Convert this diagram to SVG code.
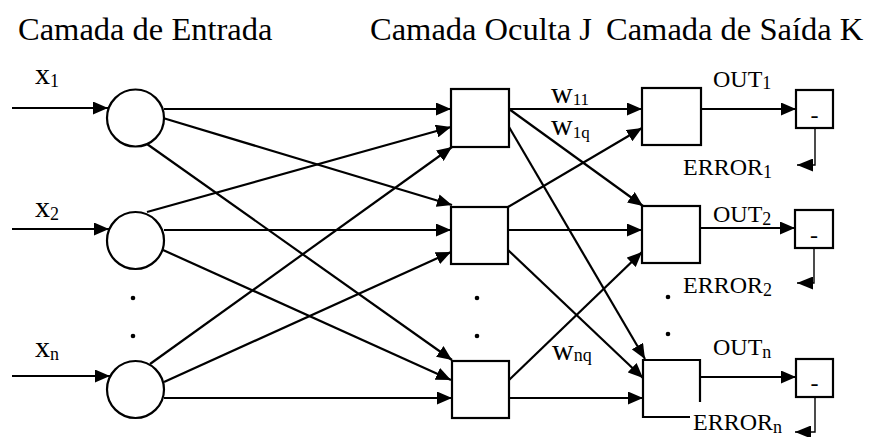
<svg xmlns="http://www.w3.org/2000/svg" width="880" height="437" viewBox="0 0 880 437" font-family="'Liberation Serif', 'DejaVu Serif', serif">
  <style>
    text { font-family: 'Liberation Serif', 'DejaVu Serif', serif; fill: #000; }
    .title { font-size: 32.5px; }
    .lbl { font-size: 24px; }
    .var { font-size: 30px; }
    .sub { font-size: 18px; }
    .wsub { font-size: 17px; }
    .node { fill: #fff; stroke: #000; stroke-width: 2.2; }
    .edge { fill: none; stroke: #000; stroke-width: 2.2; marker-end: url(#arrow); }
    .err { fill: none; stroke: #000; stroke-width: 1.4; marker-end: url(#arrowErr); }
    .dot { fill: #000; }
  </style>
  <defs>
    <marker id="arrow" markerUnits="userSpaceOnUse" markerWidth="15" markerHeight="13" refX="15" refY="6.5" orient="auto">
      <path d="M0,0 L15,6.5 L0,13 z" fill="#000"/>
    </marker>
    <marker id="arrowErr" markerUnits="userSpaceOnUse" markerWidth="16" markerHeight="13" refX="16" refY="6.5" orient="auto">
      <path d="M0,0 L16,6.5 L0,13 z" fill="#000"/>
    </marker>
  </defs>

  <rect width="880" height="437" fill="#fff"/>

  <!-- layer titles -->
  <text class="title" x="18" y="40">Camada de Entrada</text>
  <text class="title" x="370" y="40">Camada Oculta J</text>
  <text class="title" x="606" y="40">Camada de Saída K</text>

  <!-- connectors -->
  <g id="connectors">
    <!-- external inputs -->
    <line class="edge" x1="12" y1="108" x2="108" y2="108"/>
    <line class="edge" x1="12" y1="229" x2="109" y2="229"/>
    <line class="edge" x1="12" y1="376" x2="110" y2="376"/>
    <!-- input -> hidden -->
    <line class="edge" x1="164" y1="109" x2="451" y2="109"/>
    <line class="edge" x1="163" y1="118" x2="452" y2="205"/>
    <line class="edge" x1="147" y1="144" x2="452" y2="360"/>
    <line class="edge" x1="147" y1="212" x2="451" y2="127"/>
    <line class="edge" x1="164" y1="230" x2="451" y2="230"/>
    <line class="edge" x1="163" y1="250" x2="451" y2="380"/>
    <line class="edge" x1="150" y1="364" x2="452" y2="147"/>
    <line class="edge" x1="164" y1="382" x2="451" y2="252"/>
    <line class="edge" x1="164" y1="398" x2="452" y2="398"/>
    <!-- hidden -> output -->
    <line class="edge" x1="509" y1="109" x2="642" y2="109"/>
    <line class="edge" x1="509" y1="109" x2="643" y2="206"/>
    <line class="edge" x1="509" y1="127" x2="645" y2="359"/>
    <line class="edge" x1="508" y1="207" x2="642" y2="128"/>
    <line class="edge" x1="508" y1="230" x2="642" y2="230"/>
    <line class="edge" x1="508" y1="250" x2="643" y2="378"/>
    <line class="edge" x1="509" y1="380" x2="642" y2="252"/>
    <line class="edge" x1="509" y1="398" x2="643" y2="398"/>
    <!-- output -> comparator -->
    <line class="edge" x1="701" y1="109" x2="796" y2="109"/>
    <line class="edge" x1="700" y1="228" x2="795" y2="228"/>
    <line class="edge" x1="700" y1="377" x2="796" y2="377"/>
    <!-- error feedback -->
    <polyline class="err" points="815,128 815,165 797,165"/>
    <polyline class="err" points="814,248 814,283 797,283"/>
    <polyline class="err" points="815,397 815,432 795,432"/>
  </g>

  <!-- input layer -->
  <g id="input1">
    <circle class="node" cx="135.5" cy="118" r="28.5"/>
    <text class="var" x="35" y="84">x<tspan class="sub" dy="3">1</tspan></text>
  </g>
  <g id="input2">
    <circle class="node" cx="135.5" cy="240.5" r="28.5"/>
    <text class="var" x="35" y="217">x<tspan class="sub" dy="3">2</tspan></text>
  </g>
  <g id="input3">
    <circle class="node" cx="135.5" cy="389.5" r="28.5"/>
    <text class="var" x="35" y="357">x<tspan class="sub" dy="3">n</tspan></text>
  </g>
  <g id="input-dots">
    <circle class="dot" cx="133" cy="298" r="2.3"/>
    <circle class="dot" cx="133" cy="336" r="2.3"/>
  </g>

  <!-- hidden layer J -->
  <g id="hidden1"><rect class="node" x="451" y="89" width="58" height="58"/></g>
  <g id="hidden2"><rect class="node" x="451" y="207" width="57" height="57"/></g>
  <g id="hidden3"><rect class="node" x="452" y="361" width="57" height="57"/></g>
  <g id="hidden-dots">
    <circle class="dot" cx="477" cy="298" r="2.3"/>
    <circle class="dot" cx="477" cy="336" r="2.3"/>
  </g>

  <!-- weights -->
  <g id="weights">
    <text class="var" x="551" y="103">w<tspan class="wsub" dy="2">11</tspan></text>
    <text class="var" x="551" y="135">w<tspan class="wsub" dy="3">1q</tspan></text>
    <text class="var" x="552" y="360">w<tspan class="sub" dy="1">nq</tspan></text>
  </g>

  <!-- output layer K -->
  <g id="output1"><rect class="node" x="642" y="88" width="59" height="57"/></g>
  <g id="output2"><rect class="node" x="642" y="206" width="58" height="57"/></g>
  <g id="output3"><path class="node" d="M690,417 H643 V360 H700 V402" fill="none"/></g>
  <g id="output-dots">
    <circle class="dot" cx="668" cy="297" r="2.3"/>
    <circle class="dot" cx="668" cy="334" r="2.3"/>
  </g>

  <!-- output labels -->
  <g id="out-labels">
    <text class="lbl" x="713" y="87">OUT<tspan class="sub" dy="2">1</tspan></text>
    <text class="lbl" x="713" y="222">OUT<tspan class="sub" dy="3">2</tspan></text>
    <text class="lbl" x="713" y="355">OUT<tspan class="sub" dy="3">n</tspan></text>
  </g>

  <!-- comparators -->
  <g id="cmp1"><rect class="node" x="796" y="90" width="37" height="38"/><text class="lbl" x="814.5" y="123" text-anchor="middle">-</text></g>
  <g id="cmp2"><rect class="node" x="795" y="210" width="38" height="38"/><text class="lbl" x="814" y="243" text-anchor="middle">-</text></g>
  <g id="cmp3"><rect class="node" x="796" y="359" width="37" height="38"/><text class="lbl" x="814.5" y="391" text-anchor="middle">-</text></g>

  <!-- error labels -->
  <g id="err-labels">
    <text class="lbl" x="683" y="175">ERROR<tspan class="sub" dy="3">1</tspan></text>
    <text class="lbl" x="683" y="293">ERROR<tspan class="sub" dy="3">2</tspan></text>
    <text class="lbl" x="693" y="430">ERROR<tspan class="sub" dy="3">n</tspan></text>
  </g>
</svg>
